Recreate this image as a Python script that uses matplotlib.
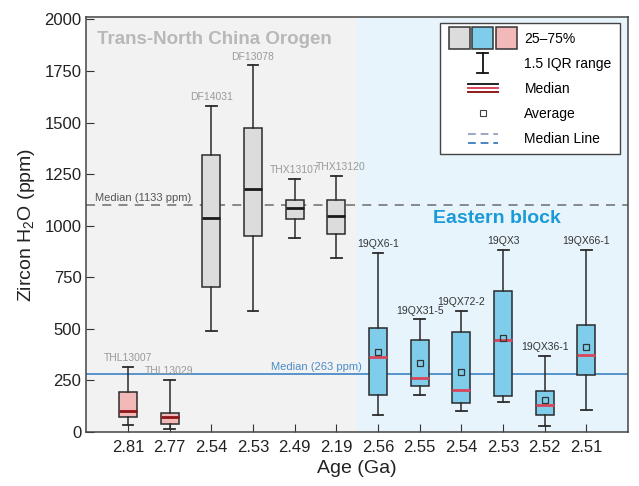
import numpy as np
import matplotlib.pyplot as plt
from matplotlib.patches import Rectangle, Patch
from matplotlib.lines import Line2D
from matplotlib.legend_handler import HandlerBase

plt.rcParams['font.family'] = ['Liberation Sans', 'DejaVu Sans']
plt.rcParams['mathtext.default'] = 'regular'

# data
ages = ["2.81", "2.77", "2.54", "2.53", "2.49", "2.19",
        "2.56", "2.55", "2.54", "2.53", "2.52", "2.51"]
samples = ["THL13007", "THL13029", "DF14031", "DF13078", "THX13107", "THX13120",
           "19QX6-1", "19QX31-5", "19QX72-2", "19QX3", "19QX36-1", "19QX66-1"]
whislo = [35, 16, 492, 589, 942, 845, 81, 180, 102, 147, 29, 105]
q1 = [74, 40, 705, 951, 1031, 960, 181, 222, 141, 175, 83, 277]
med = [102, 74, 1039, 1178, 1084, 1049, 363, 264, 202, 448, 133, 372]
q3 = [196, 94, 1341, 1472, 1125, 1126, 505, 445, 485, 684, 200, 518]
whishi = [315, 252, 1583, 1778, 1227, 1243, 870, 547, 587, 883, 369, 882]
means = [np.nan] * 6 + [387, 333, 291, 458, 157, 413]
groups = ["pink"] * 2 + ["gray"] * 4 + ["blue"] * 6

tnco_median = 1100   # drawn height of the dashed line
eb_median = 280      # drawn height of the blue line

face = {"gray": "#dcdcdc", "blue": "#7fcdeb", "pink": "#f3b9b9"}
medcol = {"gray": "#1a1a1a", "blue": "#d9465a", "pink": "#8e1515"}
labcol = {"gray": "#9a9a9a", "blue": "#333333", "pink": "#9a9a9a"}

fig = plt.figure(figsize=(6.39, 4.86), dpi=100)
ax = fig.add_axes([0.135, 0.111, 0.848, 0.854])

n = len(ages)
pos = np.arange(1, n + 1)
ax.axvspan(0, 6.5, color="#f2f2f2", zorder=0)
ax.axvspan(6.5, n + 1, color="#e7f4fc", zorder=0)

for g in ["pink", "gray", "blue"]:
    idx = [i for i in range(n) if groups[i] == g]
    stats = []
    for i in idx:
        stats.append(dict(whislo=whislo[i], q1=q1[i], med=med[i], q3=q3[i],
                          whishi=whishi[i], mean=means[i], fliers=[]))
    ax.bxp(stats, positions=pos[idx], widths=0.43, capwidths=0.26,
           patch_artist=True, showmeans=(g == "blue"),
           boxprops=dict(facecolor=face[g], edgecolor="#2b2b2b", lw=1.1),
           whiskerprops=dict(color="#2b2b2b", lw=1.1),
           capprops=dict(color="#2b2b2b", lw=1.3),
           medianprops=dict(color=medcol[g], lw=2),
           meanprops=dict(marker="s", markersize=4.5, markerfacecolor="none",
                          markeredgecolor="#333333", markeredgewidth=0.9),
           manage_ticks=False, zorder=3)

for i in range(n):
    dx = 0.1 if samples[i] == "THX13120" else 0
    ax.text(pos[i] + dx, whishi[i] + 18, samples[i], ha="center", va="bottom",
            fontsize=7.5, color=labcol[groups[i]], zorder=4)

ax.axhline(tnco_median, color="#808080", ls=(0, (5, 4)), lw=1.3, zorder=1)
ax.axhline(eb_median, color="#4a8cc8", lw=1.3, zorder=1)
ax.text(0.22, tnco_median + 12, "Median (1133 ppm)", fontsize=8, color="#555555",
        ha="left", va="bottom")
ax.text(6.62, eb_median + 10, "Median (263 ppm)", fontsize=8, color="#4a8cc8",
        ha="right", va="bottom")

ax.text(0.26, 1905, "Trans-North China Orogen", fontsize=13.5, fontweight="bold",
        color="#b8b8b8", ha="left", va="center")
ax.text(9.86, 1034, "Eastern block", fontsize=14, fontweight="bold",
        color="#1a9bd8", ha="center", va="center")

ax.set_xlim(0, n + 1)
ax.set_ylim(0, 2012)
ax.set_xticks(pos)
ax.set_xticklabels(ages)
ax.set_yticks(np.arange(0, 2001, 250))
ax.tick_params(direction="in", length=6, labelsize=12, color="#333333",
               labelcolor="#222222")
ax.tick_params(axis="x", pad=6)
for s in ax.spines.values():
    s.set_color("#444444")
    s.set_linewidth(1.1)
ax.set_xlabel("Age (Ga)", fontsize=14, color="#222222", labelpad=3)
ax.set_ylabel("Zircon H$_2$O (ppm)", fontsize=14, color="#222222", labelpad=5)


# legend handlers
class BoxesHandler(HandlerBase):
    def create_artists(self, legend, orig_handle, xdescent, ydescent, width,
                       height, fontsize, trans):
        cols = [face["gray"], face["blue"], face["pink"]]
        bw = width / 3.25
        gap = (width - 3 * bw) / 2
        h = height * 1.8
        y0 = -ydescent + height / 2 - h / 2
        out = []
        for k, c in enumerate(cols):
            out.append(Rectangle((-xdescent + k * (bw + gap), y0), bw, h,
                                 facecolor=c, edgecolor="#333333", lw=1.1,
                                 transform=trans))
        return out


class IQRHandler(HandlerBase):
    def create_artists(self, legend, orig_handle, xdescent, ydescent, width,
                       height, fontsize, trans):
        xc = -xdescent + width / 2
        y0 = -ydescent - height * 0.3
        y1 = -ydescent + height * 1.3
        cw = width * 0.08
        return [Line2D([xc, xc], [y0, y1], color="#111111", lw=1.3, transform=trans),
                Line2D([xc - cw, xc + cw], [y0, y0], color="#111111", lw=1.3, transform=trans),
                Line2D([xc - cw, xc + cw], [y1, y1], color="#111111", lw=1.3, transform=trans)]


class StackHandler(HandlerBase):
    def __init__(self, colors, ls="-"):
        super().__init__()
        self.colors = colors
        self.ls = ls

    def create_artists(self, legend, orig_handle, xdescent, ydescent, width,
                       height, fontsize, trans):
        x0 = -xdescent + width * 0.28
        x1 = -xdescent + width * 0.72
        m = len(self.colors)
        out = []
        for k, c in enumerate(self.colors):
            y = -ydescent + height * (0.85 - 0.7 * k / max(m - 1, 1))
            out.append(Line2D([x0, x1], [y, y], color=c, ls=self.ls, lw=1.4,
                              transform=trans))
        return out


class SquareHandler(HandlerBase):
    def create_artists(self, legend, orig_handle, xdescent, ydescent, width,
                       height, fontsize, trans):
        return [Line2D([-xdescent + width / 2], [-ydescent + height / 2], marker="s",
                       markersize=4, markerfacecolor="none", markeredgecolor="#444444",
                       markeredgewidth=0.8, ls="none", transform=trans)]


h_box = Patch()
h_iqr = Line2D([], [])
h_med = Line2D([], [])
h_avg = Line2D([], [])
h_mline = Line2D([], [])
hmap = {h_box: BoxesHandler(), h_iqr: IQRHandler(),
        h_med: StackHandler(["#222222", "#d9465a", "#8e1a1a"]),
        h_avg: SquareHandler(),
        h_mline: StackHandler(["#9aa8c4", "#4a86c5"], ls=(0, (4, 2.5)))}
leg = ax.legend([h_box, h_iqr, h_med, h_avg, h_mline],
                ["25\u201375%", "1.5 IQR range", "Median", "Average", "Median Line"],
                handler_map=hmap, loc="upper right", bbox_to_anchor=(0.985, 0.985),
                borderaxespad=0, fontsize=10, handlelength=4.9, handleheight=1.0,
                labelspacing=0.8, handletextpad=0.55, borderpad=0.6,
                fancybox=False, framealpha=1, edgecolor="#444444")
leg.get_frame().set_linewidth(1.0)
leg.set_zorder(5)

fig.savefig("out.png", dpi=100)
